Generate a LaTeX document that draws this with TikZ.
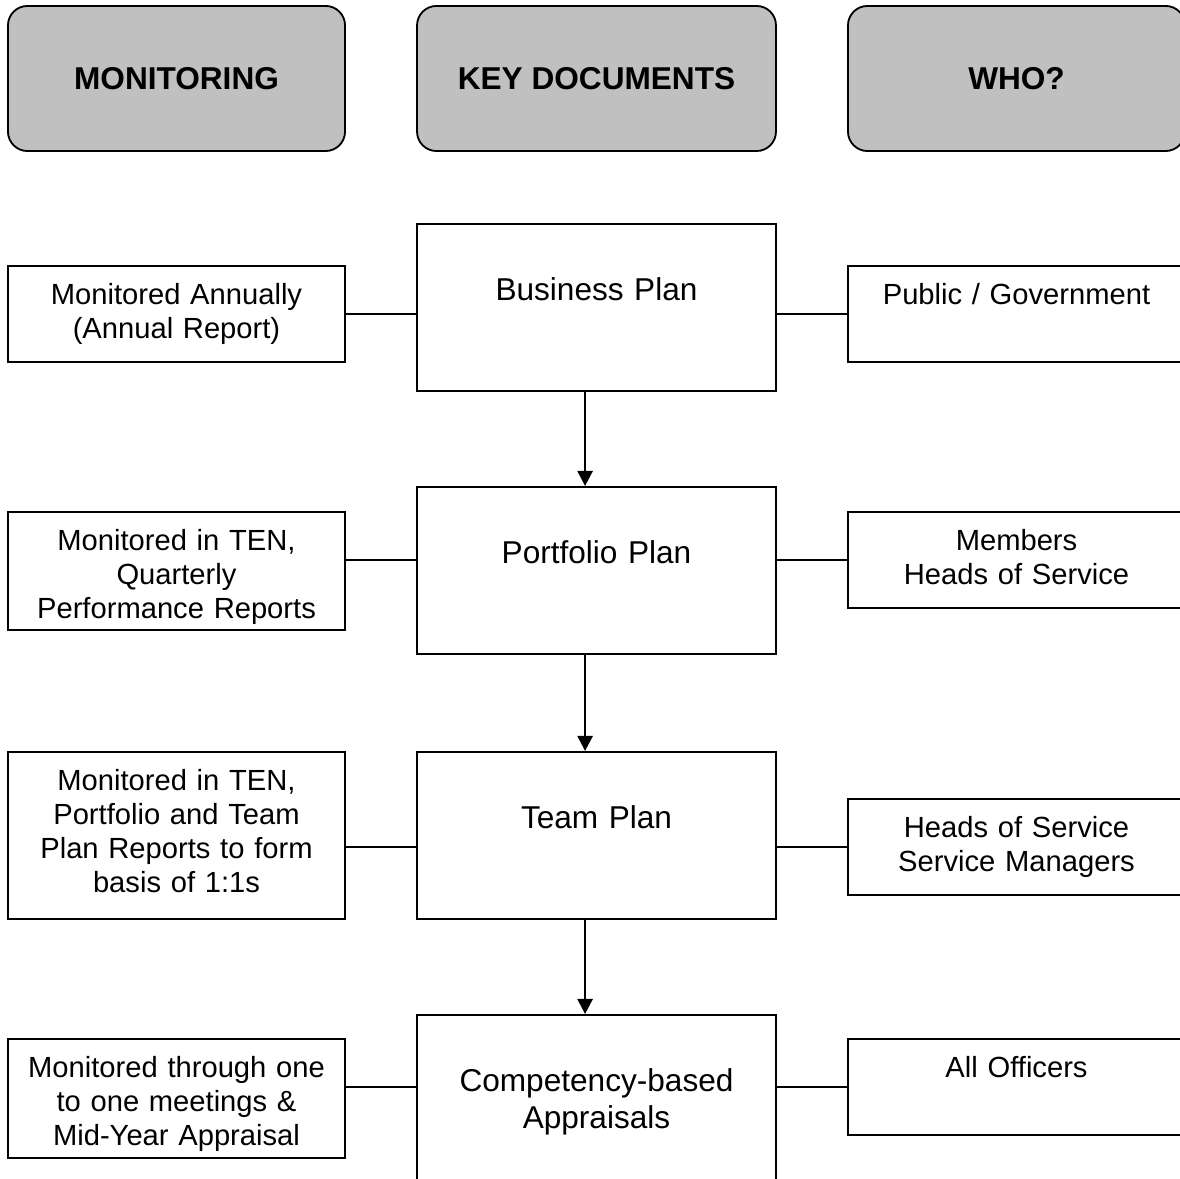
\documentclass[tikz,border=0pt]{standalone}
\usepackage{fontspec}
\setmainfont{Liberation Sans}
\usetikzlibrary{arrows.meta}
\definecolor{headgray}{RGB}{192,192,192}

\begin{document}
\begin{tikzpicture}[
  x=0.4115pt, y=-0.4115pt,
  every node/.style={align=center},
  headbox/.style={rectangle, draw=black, line width=0.75pt, fill=headgray,
        rounded corners=8pt, minimum width=138.7pt, minimum height=59.7pt,
        inner sep=0pt, font=\fontsize{13}{15}\selectfont\bfseries},
  docbox/.style={rectangle, draw=black, line width=0.75pt, anchor=north,
        text width=147.7pt, inner sep=0pt, text height=31.7pt,
        text depth=37pt, font=\fontsize{13}{15}\selectfont},
  sidebox/.style={rectangle, draw=black, line width=0.75pt, anchor=north,
        text width=138.7pt, inner sep=0pt, text height=16pt,
        text depth=#1, font=\fontsize{12}{14}\selectfont},
  link/.style={draw=black, line width=0.75pt},
  flow/.style={draw=black, line width=1pt,
        -{Triangle[length=6.2pt, width=6.2pt]}}
]
  \useasboundingbox (0,0) rectangle (1180,1179);
  \clip (0,0) rectangle (1180,1179);

  % Column headers
  \node[headbox] (hmon) at (176.5, 78.5) {MONITORING};
  \node[headbox, minimum width=147.7pt] (hdoc) at (596.5, 78.5) {KEY DOCUMENTS};
  \node[headbox] (hwho) at (1016.5, 78.5) {WHO?};

  % Key documents
  \node[docbox] (doc1) at (596.5, 223) {Business Plan};
  \node[docbox] (doc2) at (596.5, 486) {Portfolio Plan};
  \node[docbox] (doc3) at (596.5, 751) {Team Plan};
  \node[docbox] (doc4) at (596.5, 1014) {Competency-based\\Appraisals};

  % Monitoring column
  \node[sidebox=23.5pt] (mon1) at (176.5, 265)
    {Monitored Annually\\(Annual Report)};
  \node[sidebox=32.6pt] (mon2) at (176.5, 511)
    {Monitored in TEN,\\Quarterly\\Performance Reports};
  \node[sidebox=52.7pt] (mon3) at (176.5, 751)
    {Monitored in TEN,\\Portfolio and Team\\Plan Reports to form\\basis of 1:1s};
  \node[sidebox=33pt] (mon4) at (176.5, 1038)
    {Monitored through one\\to one meetings \&\\Mid-Year Appraisal};

  % Who column
  \node[sidebox=23.5pt] (who1) at (1016.5, 265) {Public / Government};
  \node[sidebox=23.5pt] (who2) at (1016.5, 511) {Members\\Heads of Service};
  \node[sidebox=23.5pt] (who3) at (1016.5, 798) {Heads of Service\\Service Managers};
  \node[sidebox=23.5pt] (who4) at (1016.5, 1038) {All Officers};

  % Side connectors
  \draw[link] (mon1.east |- who1.west) -- (doc1.west |- who1.west);
  \draw[link] (doc1.east |- who1.west) -- (who1.west);
  \draw[link] (mon2.east |- who2.west) -- (doc2.west |- who2.west);
  \draw[link] (doc2.east |- who2.west) -- (who2.west);
  \draw[link] (mon3.east |- who3.west) -- (doc3.west |- who3.west);
  \draw[link] (doc3.east |- who3.west) -- (who3.west);
  \draw[link] (mon4.east |- who4.west) -- (doc4.west |- who4.west);
  \draw[link] (doc4.east |- who4.west) -- (who4.west);

  % Downward flow
  \draw[flow] ([xshift=-4.7pt]doc1.south) -- ([xshift=-4.7pt]doc2.north);
  \draw[flow] ([xshift=-4.7pt]doc2.south) -- ([xshift=-4.7pt]doc3.north);
  \draw[flow] ([xshift=-4.7pt]doc3.south) -- ([xshift=-4.7pt]doc4.north);
\end{tikzpicture}
\end{document}
